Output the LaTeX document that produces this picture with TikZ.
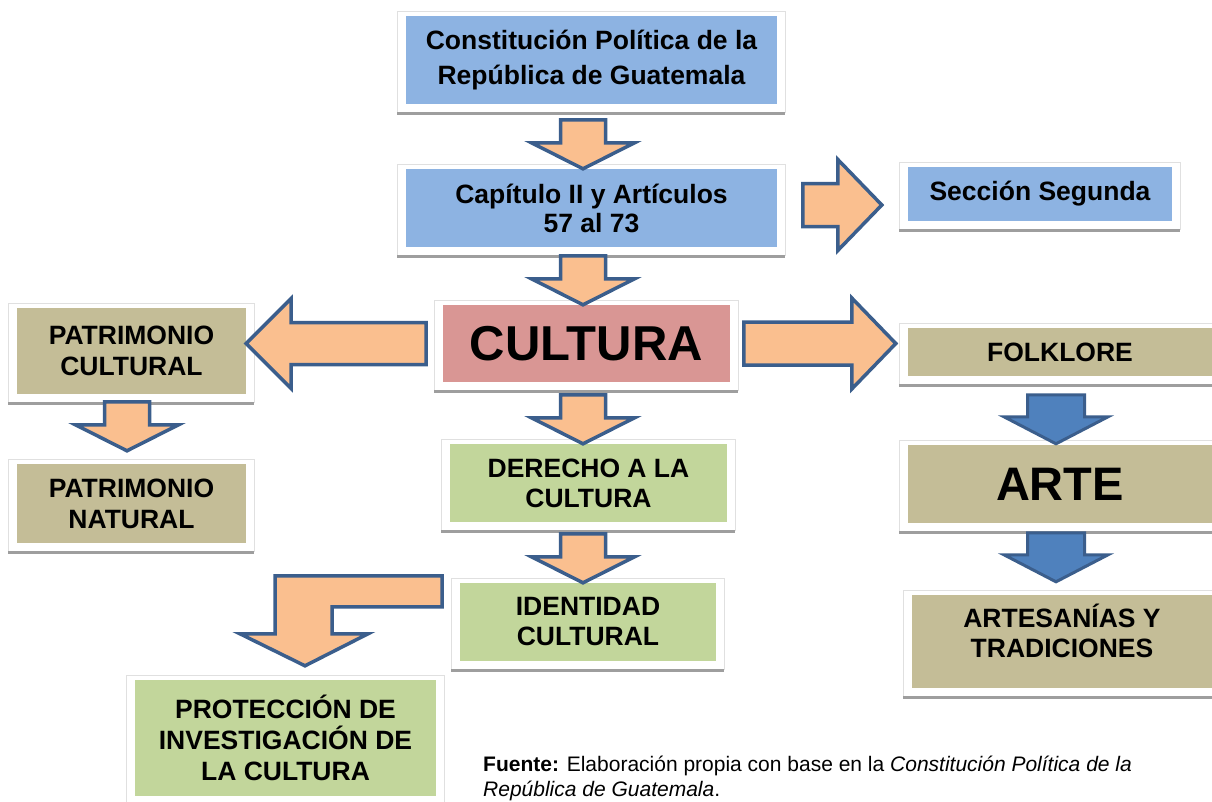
\documentclass[tikz,border=0pt]{standalone}
\usepackage{fontspec}
\setmainfont{Liberation Sans}
\usetikzlibrary{backgrounds,calc}

\definecolor{boxblue}{RGB}{141,179,226}
\definecolor{boxred}{RGB}{217,150,148}
\definecolor{boxtan}{RGB}{196,189,151}
\definecolor{boxgreen}{RGB}{194,214,155}
\definecolor{arrfill}{RGB}{250,191,143}
\definecolor{arrline}{RGB}{59,94,140}
\definecolor{bluefill}{RGB}{79,129,189}

\tikzset{
  inbox/.style={rectangle, inner sep=0pt, align=center,
    font=\bfseries\fontsize{26.5}{31}\selectfont},
  frame/.style={fill=white, draw=black!12, line width=0.8pt},
  shadowline/.style={draw=black!38, line width=3pt},
  blockarr/.style={fill=arrfill, draw=arrline, line width=3.5pt, line join=miter},
  bluearr/.style={fill=bluefill, draw=arrline, line width=3pt, line join=miter},
  pics/downarr/.style={code={
    \draw[blockarr] (0,0) -- (-51.5,-26) -- (-22.5,-26) -- (-22.5,-49)
      -- (22.5,-49) -- (22.5,-26) -- (51.5,-26) -- cycle;}},
  pics/bluedown/.style={code={
    \draw[bluearr] (0,0) -- (-52,-27) -- (-28.5,-27) -- (-28.5,-49)
      -- (28.5,-49) -- (28.5,-27) -- (52,-27) -- cycle;}},
  pics/leftarr/.style={code={
    \draw[blockarr] (0,0) -- (45,-45) -- (45,-21) -- (#1,-21)
      -- (#1,21) -- (45,21) -- (45,45) -- cycle;}},
  pics/rightarr/.style={code={
    \draw[blockarr] (0,0) -- (-44,-45.5) -- (-44,-21.5) -- (-#1,-21.5)
      -- (-#1,21.5) -- (-44,21.5) -- (-44,45.5) -- cycle;}},
  pics/bentarr/.style={code={
    \draw[blockarr] (0,0) -- (63,-32) -- (27,-32) -- (27,-59) -- (137,-59)
      -- (137,-90) -- (-30,-90) -- (-30,-32) -- (-65,-32) -- cycle;}},
}

\begin{document}
\begin{tikzpicture}[x=1pt, y=-1pt]
\useasboundingbox (0,0) rectangle (1212,801);

% boxes
\node[inbox, fill=boxblue, minimum width=371pt, minimum height=88pt,
  font=\bfseries\fontsize{26.5}{35}\selectfont] (const) at (591.5,60)
  {Constitución Política de la\\República de Guatemala};
\node[inbox, fill=boxblue, minimum width=371pt, minimum height=78pt,
  font=\bfseries\fontsize{26.5}{29}\selectfont] (cap) at (591.5,208)
  {Capítulo II y Artículos\\57 al 73};
\node[inbox, fill=boxblue, minimum width=264pt, minimum height=54pt] (secc) at (1040,194) {Sección Segunda};
\node[inbox, fill=boxred, minimum width=287pt, minimum height=77pt,
  font=\bfseries\fontsize{49}{55}\selectfont] (cult) at (586.5,343.5) {CULTURA};
\node[inbox, fill=boxtan, minimum width=229pt, minimum height=86pt] (patc) at (131.5,351) {PATRIMONIO\\CULTURAL};
\node[inbox, fill=boxtan, minimum width=229pt, minimum height=79pt] (patn) at (131.5,503.5) {PATRIMONIO\\NATURAL};
\node[inbox, fill=boxgreen, minimum width=277pt, minimum height=78pt,
  font=\bfseries\fontsize{26.5}{30}\selectfont] (der) at (588.5,483) {DERECHO A LA\\CULTURA};
\node[inbox, fill=boxgreen, minimum width=256pt, minimum height=78pt,
  font=\bfseries\fontsize{26.5}{30}\selectfont] (iden) at (588,622) {IDENTIDAD\\CULTURAL};
\node[inbox, fill=boxgreen, minimum width=301pt, minimum height=116pt] (prot) at (285.5,738)
  {PROTECCIÓN DE\\INVESTIGACIÓN DE\\LA CULTURA};
\node[inbox, fill=boxtan, minimum width=304pt, minimum height=48pt] (folk) at (1060,352) {FOLKLORE};
\node[inbox, fill=boxtan, minimum width=304pt, minimum height=78pt,
  font=\bfseries\fontsize{47}{50}\selectfont] (arte) at (1060,484) {ARTE};
\node[inbox, fill=boxtan, minimum width=300pt, minimum height=93pt, text depth=21pt,
  font=\bfseries\fontsize{26.5}{30}\selectfont] (artes) at (1062,641.5) {ARTESANÍAS Y\\TRADICIONES};

\node[anchor=north west, align=left, inner sep=0pt,
  font=\fontsize{21}{25}\selectfont] (fuente) at (483,756)
  {\textbf{Fuente:} Elaboración propia con base en la \textit{Constitución Política de la}\\
   \textit{República de Guatemala}.};

% white frames with a grey bottom edge
\begin{scope}[on background layer]
  \fill[white] (0,0) rectangle (1212,801);
  \foreach \n in {const,cap,secc,cult,patc,patn,der,iden,prot,folk,arte,artes}{
    \draw[frame] ([shift={(-8.5,-4.5)}]\n.north west) rectangle ([shift={(8,8)}]\n.south east);
    \draw[shadowline] ([shift={(-8.5,9.5)}]\n.south west) -- ([shift={(8,9.5)}]\n.south east);
  }
\end{scope}

% block arrows
\coordinate (axis) at (583,0);
\pic at (axis |- cap.north) {downarr};
\pic at (axis |- cult.north) {downarr};
\pic at (axis |- der.north) {downarr};
\pic at (axis |- iden.north) {downarr};
\pic at ([shift={(-4.5,-13)}]patn.north) {downarr};
\pic at (patc.east |- cult.center) {leftarr=180};
\pic at ($(secc.west |- cap.center)+(-26,-3)$) {rightarr=79};
\pic at ($(folk.west |- cult.center)+(-12,0)$) {rightarr=152};
\pic at ($(prot.north)+(19.5,-14)$) {bentarr};
\pic at ([shift={(-4,-1)}]arte.north) {bluedown};
\pic at ([shift={(-6,-13)}]artes.north) {bluedown};
\end{tikzpicture}
\end{document}
